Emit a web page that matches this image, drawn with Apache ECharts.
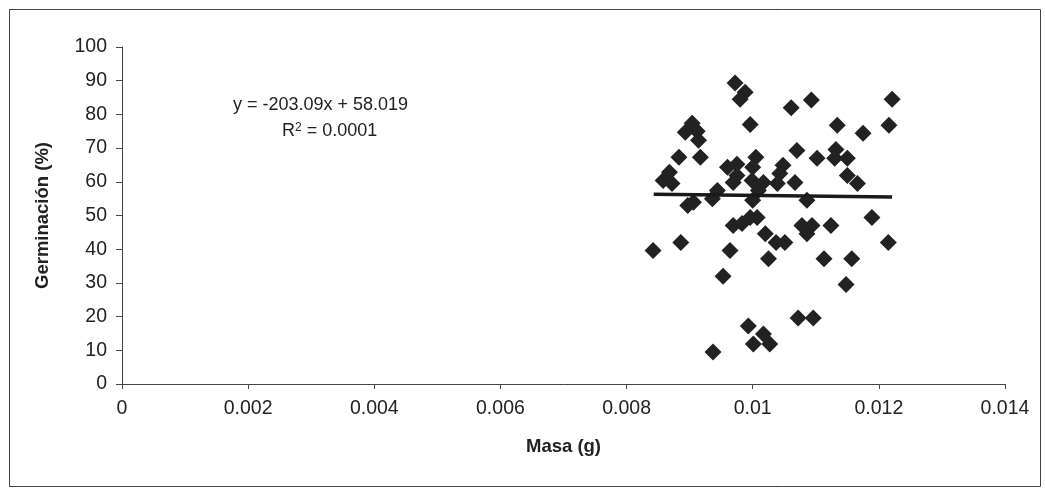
<!DOCTYPE html>
<html>
<head>
<meta charset="utf-8">
<script src="https://cdn.jsdelivr.net/npm/echarts@6/dist/echarts.min.js"></script>
<style>
html,body{margin:0;padding:0;background:#fff;}
#chart{width:1045px;height:491px;}
</style>
</head>
<body>
<div id="chart"></div>
<script>
// Masa (g)
const masa = [0.00972,0.00988,0.0098,0.01061,0.01093,0.01221,0.00996,0.00904,0.00893,0.00912,
0.00914,0.01134,0.01216,0.01175,0.0107,0.01132,0.00883,0.00917,0.01102,0.0113,
0.0115,0.01005,0.0096,0.00975,0.01,0.01048,0.00868,0.00858,0.00872,0.00969,
0.00975,0.00999,0.01017,0.01043,0.01039,0.01067,0.0115,0.01166,0.01009,0.00944,
0.00936,0.00897,0.00906,0.01,0.01086,0.00969,0.00983,0.00996,0.01007,0.01078,
0.01094,0.01086,0.01124,0.01189,0.0102,0.01037,0.01051,0.00886,0.00842,0.00964,
0.01025,0.01113,0.01157,0.01215,0.00953,0.01148,0.01072,0.01096,0.00993,0.01017,
0.01001,0.01027,0.00937];
// Germinación (%)
const germinacion = [89.3,86.6,84.5,82,84.3,84.5,77,77.4,74.7,75,
72.3,76.8,76.8,74.4,69.3,69.6,67.3,67.3,67,67,
67,67.3,64.3,65.2,64.3,64.9,62.8,60.4,59.5,59.8,
61.9,60.4,59.8,62.5,59.5,59.8,61.9,59.5,57.4,57.4,
55,53,53.9,54.5,54.5,47,47.6,49.4,49.4,47,
47,44.6,47,49.4,44.6,42,42,42,39.6,39.6,
37.2,37.2,37.2,42,32,29.5,19.6,19.6,17.2,14.8,
11.9,11.9,9.5];
// Trendline endpoints (x, y)
const trendX = [0.00843, 0.01221];
const trendY = [56.3, 55.5];
const equationText = 'y = -203.09x + 58.019';
const r2Text = '0.0001';

const pts = masa.map((x, i) => [x, germinacion[i]]);
const trend = trendX.map((x, i) => [x, trendY[i]]);
const font = '"Liberation Sans", Arial, sans-serif';

const chart = echarts.init(document.getElementById('chart'), null, {renderer: 'canvas'});
chart.setOption({
  animation: false,
  backgroundColor: '#fff',
  grid: {left: 122, right: 40, top: 47, bottom: 107},
  xAxis: {
    type: 'value', min: 0, max: 0.014, interval: 0.002,
    name: 'Masa (g)', nameLocation: 'middle', nameGap: 53,
    nameTextStyle: {fontFamily: font, fontSize: 18.5, fontWeight: 'bold', color: '#222'},
    axisLine: {show: true, lineStyle: {color: '#444', width: 1}},
    axisTick: {show: true, inside: false, length: 5, lineStyle: {color: '#444'}},
    axisLabel: {fontFamily: font, fontSize: 19.5, color: '#222', margin: 15,
      formatter: v => String(+v.toFixed(3))},
    splitLine: {show: false}
  },
  yAxis: {
    type: 'value', min: 0, max: 100, interval: 10,
    name: 'Germinación (%)', nameLocation: 'middle', nameGap: 70,
    nameTextStyle: {fontFamily: font, fontSize: 18.5, fontWeight: 'bold', color: '#222'},
    axisLine: {show: true, lineStyle: {color: '#444', width: 1}},
    axisTick: {show: true, inside: false, length: 6, lineStyle: {color: '#444'}},
    axisLabel: {fontFamily: font, fontSize: 19.5, color: '#222', margin: 15},
    splitLine: {show: false}
  },
  graphic: [
    {type: 'rect', left: 7, top: 7, shape: {width: 1031, height: 477},
     style: {fill: 'none', stroke: '#444', lineWidth: 1}, silent: true},
    {type: 'text', left: 233, top: 96,
     style: {text: equationText, font: '18px ' + font, fill: '#222'}},
    {type: 'text', left: 282, top: 122,
     style: {rich: {n: {fontFamily: font, fontSize: 18, fill: '#222', verticalAlign: 'bottom'},
                    s: {fontFamily: font, fontSize: 12, fill: '#222', verticalAlign: 'top'}},
             text: '{n|R}{s|2}{n| = ' + r2Text + '}'}}
  ],
  series: [
    {type: 'scatter', data: pts, symbol: 'diamond', symbolSize: 17,
     itemStyle: {color: '#222', opacity: 1}, z: 2},
    {type: 'line', data: trend, symbol: 'none', lineStyle: {color: '#1a1a1a', width: 3.5}, z: 3}
  ]
});
</script>
</body>
</html>
